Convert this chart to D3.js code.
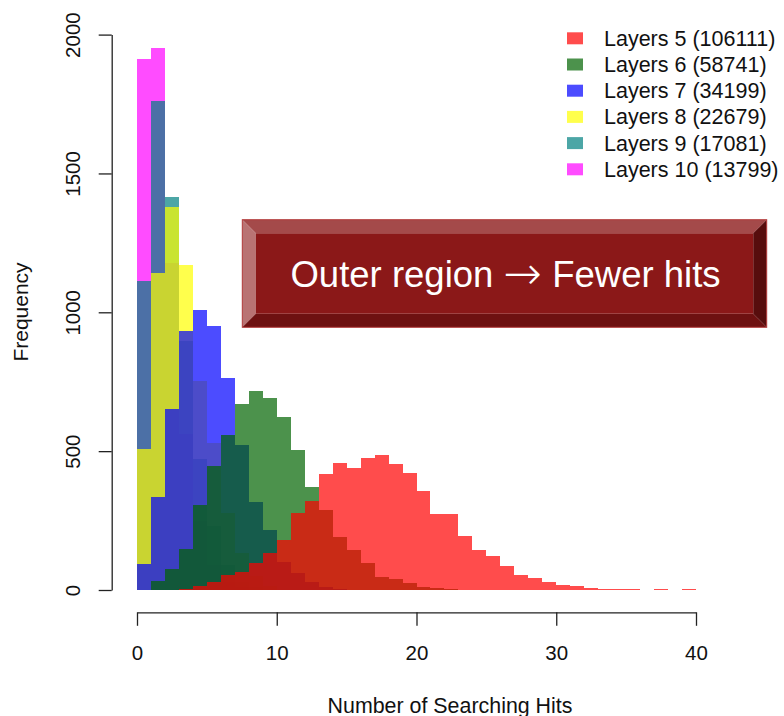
<!DOCTYPE html>
<html>
<head>
<meta charset="utf-8">
<script src="https://cdn.jsdelivr.net/npm/d3@7"></script>
<style>
  body { margin: 0; background: #fff; }
  svg { display: block; font-family: "Liberation Sans", Arial, sans-serif; }
</style>
</head>
<body>
<div id="chart"></div>
<script>
// histogram counts per unit bin, starting at bin [0,1)
const layers5 = [0, 0, 0, 3, 16, 30, 54, 66, 96, 135, 180, 279, 321, 418, 459, 438, 477, 486, 453, 422,
                 358, 274, 274, 193, 145, 121, 88, 55, 44, 30, 17, 13, 8, 5, 5, 5, 0, 4, 0, 4];
const layers6 = [0, 32, 76, 148, 306, 448, 559, 670, 716, 691, 622, 505, 372, 288, 192, 144, 99, 46, 38, 24, 12, 6, 3];
const layers7 = [92, 336, 651, 934, 1007, 951, 763, 522, 318, 216, 102, 60, 30, 10, 4];
const layers8 = [507, 1141, 1380, 1171, 751, 528, 277, 132, 50, 15];
const layers9 = [1113, 1762, 1416, 895, 471, 230, 90, 30, 10];
const layers10 = [1912, 1952, 1178, 560, 250, 90, 30, 10];

const seriesNames = ["Layers 5", "Layers 6", "Layers 7", "Layers 8", "Layers 9", "Layers 10"];
const seriesTotals = [106111, 58741, 34199, 22679, 17081, 13799];
const seriesCounts = [layers5, layers6, layers7, layers8, layers9, layers10];
const colors = ["#ff0000", "#006400", "#0000ff", "#ffff00", "#008080", "#ff00ff"];

const xTicks = [0, 10, 20, 30, 40];
const yTicks = [0, 500, 1000, 1500, 2000];
const note = ["Outer region ", "\u2192", " Fewer hits"];

const width = 784, height = 716;

let svg = d3.select("#chart")
    .append("svg")
    .attr("width", width)
    .attr("height", height);

let x = d3.scaleLinear().domain([0, 40]).range([137, 696]);
let y = d3.scaleLinear().domain([0, 2000]).range([590, 34.6]);

// bars: draw outer layers first so Layers 5 ends on top
let series = seriesNames.map((name, i) => ({
    name: name,
    color: colors[i],
    bins: seriesCounts[i].map((c, k) => ({x0: k, x1: k + 1, count: c})).filter(b => b.count > 0)
}));

svg.append("g")
    .selectAll("g")
    .data(series.slice().reverse())
    .enter()
    .append("g")
    .attr("fill", d => d.color)
    .attr("fill-opacity", 0.7)
    .selectAll("rect")
    .data(d => d.bins)
    .enter()
    .append("rect")
    .attr("shape-rendering", "crispEdges")
    .attr("x", d => x(d.x0))
    .attr("width", d => x(d.x1) - x(d.x0))
    .attr("y", d => y(d.count))
    .attr("height", d => y(0) - y(d.count));

// axes
let yAxis = svg.append("g")
    .attr("transform", "translate(111.7,0)")
    .call(d3.axisLeft(y).tickValues(yTicks).tickFormat(d3.format("d")).tickSize(13).tickSizeOuter(0));
yAxis.selectAll("text")
    .attr("x", null).attr("dy", null)
    .attr("transform", "translate(-31.7,0) rotate(-90)")
    .attr("text-anchor", "middle");

let xAxis = svg.append("g")
    .attr("transform", "translate(0,612.3)")
    .call(d3.axisBottom(x).tickValues(xTicks).tickFormat(d3.format("d")).tickSize(13.5).tickSizeOuter(0));
xAxis.selectAll("text")
    .attr("y", 47.7).attr("dy", null);

svg.selectAll(".tick text")
    .attr("font-size", 20.5)
    .attr("font-family", null)
    .attr("fill", "#111");
svg.selectAll(".domain, .tick line")
    .attr("stroke", "#222")
    .attr("stroke-width", 1.3);

svg.append("text")
    .attr("transform", "translate(28,312) rotate(-90)")
    .attr("text-anchor", "middle")
    .attr("font-size", 21)
    .attr("fill", "#111")
    .text("Frequency");

svg.append("text")
    .attr("x", 450)
    .attr("y", 712.5)
    .attr("text-anchor", "middle")
    .attr("font-size", 21.4)
    .attr("fill", "#111")
    .text("Number of Searching Hits");

// legend
let legend = svg.append("g")
    .selectAll("g")
    .data(series)
    .enter()
    .append("g")
    .attr("transform", (d, i) => "translate(0," + (38.3 + i * 26.2) + ")");
legend.append("rect")
    .attr("x", 567).attr("y", -6)
    .attr("width", 16).attr("height", 12)
    .attr("fill", d => d.color)
    .attr("fill-opacity", 0.7);
legend.append("text")
    .attr("x", 604)
    .attr("dy", "0.35em")
    .attr("font-size", 21.5)
    .attr("fill", "#111")
    .text((d, i) => d.name + " (" + seriesTotals[i] + ")");

// bevelled note box
let bx0 = 242.3, bx1 = 766.7, by0 = 219.7, by1 = 327.3, bev = 13.5;
let box = svg.append("g");
let face = [[bx0 + bev, by0 + bev], [bx1 - bev, by0 + bev], [bx1 - bev, by1 - bev], [bx0 + bev, by1 - bev]];
let bevels = [
    {fill: "#a44a4a", pts: [[bx0, by0], [bx1, by0], [bx1 - bev, by0 + bev], [bx0 + bev, by0 + bev]]},
    {fill: "#b97373", pts: [[bx0, by0], [bx0 + bev, by0 + bev], [bx0 + bev, by1 - bev], [bx0, by1]]},
    {fill: "#6e1111", pts: [[bx0, by1], [bx0 + bev, by1 - bev], [bx1 - bev, by1 - bev], [bx1, by1]]},
    {fill: "#570d0d", pts: [[bx1, by0], [bx1, by1], [bx1 - bev, by1 - bev], [bx1 - bev, by0 + bev]]}
];
box.selectAll("polygon.bevel")
    .data(bevels)
    .enter()
    .append("polygon")
    .attr("class", "bevel")
    .attr("points", d => d.pts.map(p => p.join(",")).join(" "))
    .attr("fill", d => d.fill);
box.append("polygon")
    .attr("points", face.map(p => p.join(",")).join(" "))
    .attr("fill", "#8b1818");
box.append("rect")
    .attr("x", bx0).attr("y", by0)
    .attr("width", bx1 - bx0).attr("height", by1 - by0)
    .attr("fill", "none")
    .attr("stroke", "#b23a3a")
    .attr("stroke-width", 1);
let noteText = box.append("text")
    .attr("x", (bx0 + bx1) / 2 + 1)
    .attr("y", 286.7)
    .attr("text-anchor", "middle")
    .attr("font-size", 36.5)
    .attr("fill", "#ffffff");
noteText.selectAll("tspan")
    .data(note)
    .enter()
    .append("tspan")
    .attr("font-family", (d, i) => i === 1 ? "DejaVu Sans" : null)
    .attr("font-weight", (d, i) => i === 1 ? 200 : null)
    .attr("font-size", (d, i) => i === 1 ? 46 : null)
    .attr("dy", (d, i) => i === 1 ? 2 : (i === 2 ? -2 : null))
    .text(d => d);
</script>
</body>
</html>
